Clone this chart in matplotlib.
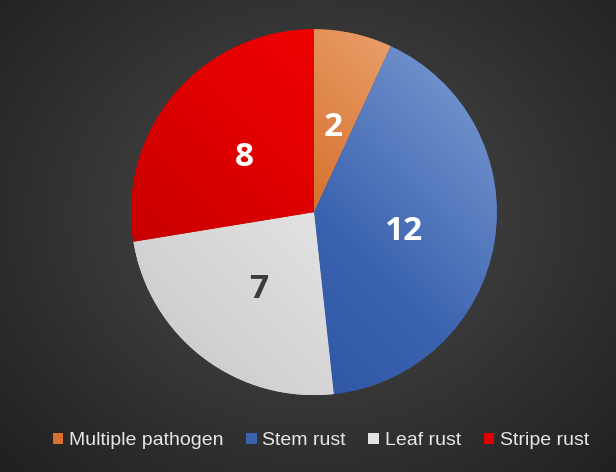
import numpy as np
import matplotlib
matplotlib.use('Agg')
import matplotlib.pyplot as plt
from matplotlib.colors import LinearSegmentedColormap

# data
labels = ['Multiple pathogen', 'Stem rust', 'Leaf rust', 'Stripe rust']
counts = [2, 12, 7, 8]
base_colors = ['#d5712c', '#3a62ae', '#e2e2e2', '#e00000']
light_colors = ['#eba06c', '#6d8fcb', '#f6f6f6', '#f40000']
dark_colors = ['#c8611e', '#2a52a2', '#cfcfcf', '#c20000']
text_colors = ['white', 'white', '#3c3c3c', 'white']

fig = plt.figure(figsize=(6.16, 4.72), dpi=100)

# background radial gradient
bg = fig.add_axes([0, 0, 1, 1])
yy, xx = np.mgrid[0:472, 0:616]
d = np.sqrt(((xx - 314) / 420.0) ** 2 + ((yy - 215) / 360.0) ** 2)
shade = np.clip(0.30 - 0.17 * d, 0.12, 0.30)
bg.imshow(np.dstack([shade] * 3), extent=[0, 1, 0, 1], aspect='auto')
bg.axis('off')

ax = fig.add_axes([0.2127, 0.163, 0.594, 0.775])
wedges, texts, autotexts = ax.pie(
    counts, colors=base_colors, startangle=90, counterclock=False,
    autopct=lambda p: '%d' % round(p * sum(counts) / 100.0),
    pctdistance=0.5, radius=1.0,
    textprops=dict(fontsize=24, fontweight='bold', family=['Open Sans', 'DejaVu Sans']))
for t, c in zip(autotexts, text_colors):
    t.set_color(c)
    x, y = t.get_position()
    t.set_position((x, y - 0.025))

# soft gradient shading inside each wedge
gx, gy = np.meshgrid(np.linspace(-1, 1, 200), np.linspace(-1, 1, 200))
grad = np.clip((gx + gy) / 2.0 * 0.7 + 0.5, 0, 1)
for w, lc, bc, dc in zip(wedges, light_colors, base_colors, dark_colors):
    cmap = LinearSegmentedColormap.from_list('g', [dc, bc, lc])
    im = ax.imshow(grad, cmap=cmap, extent=[-1, 1, -1, 1], origin='lower',
                   zorder=w.get_zorder() + 0.1, vmin=0, vmax=1)
    im.set_clip_path(w)
for t in autotexts:
    t.set_zorder(5)
ax.set_xlim(-1, 1)
ax.set_ylim(-1, 1)
ax.set_aspect('equal')
ax.axis('off')

leg = fig.legend(wedges, labels, loc='center', bbox_to_anchor=(0.521, 0.066),
                 ncol=4, frameon=False, handlelength=0.55, handleheight=0.55,
                 handletextpad=0.3, columnspacing=1.15,
                 prop=dict(family=['Liberation Sans', 'DejaVu Sans'], size=14))
for t in leg.get_texts():
    t.set_color('#e6e6e6')

fig.savefig('out.png', dpi=100)
